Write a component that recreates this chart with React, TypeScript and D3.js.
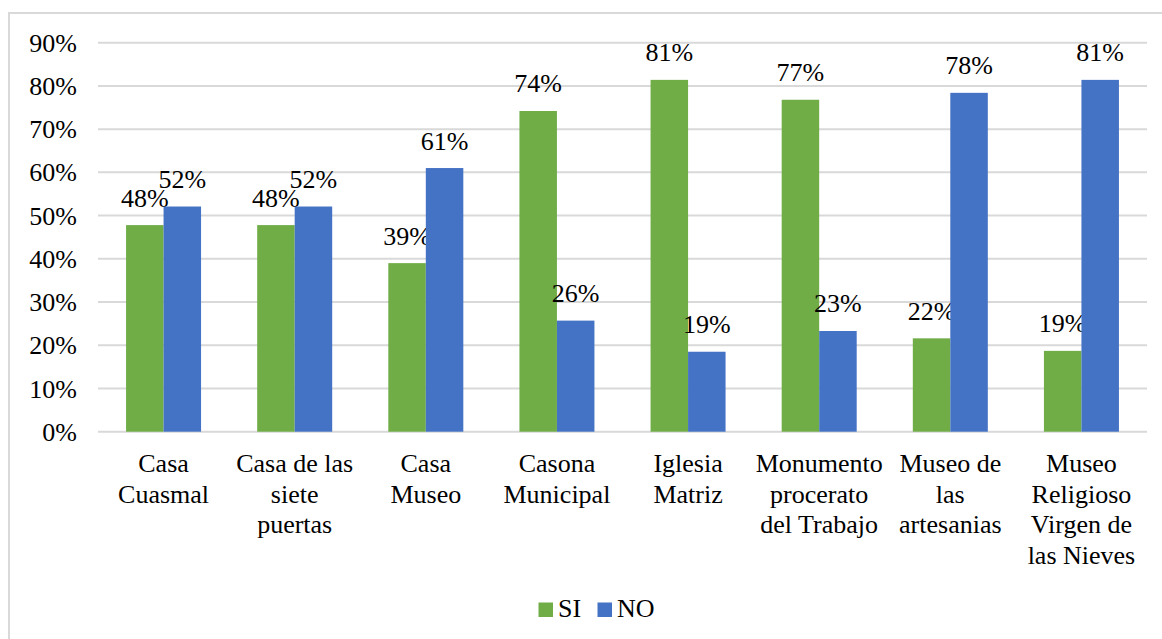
import React from "react";
import * as d3 from "d3";

const categories: string[][] = [
  ["Casa", "Cuasmal"],
  ["Casa de las", "siete", "puertas"],
  ["Casa", "Museo"],
  ["Casona", "Municipal"],
  ["Iglesia", "Matriz"],
  ["Monumento", "procerato", "del Trabajo"],
  ["Museo de", "las", "artesanias"],
  ["Museo", "Religioso", "Virgen de", "las Nieves"],
];
const siValues = [47.8, 47.8, 39.0, 74.2, 81.4, 76.8, 21.6, 18.7];
const noValues = [52.1, 52.1, 61.0, 25.7, 18.5, 23.3, 78.4, 81.4];
const yTicks = [0, 10, 20, 30, 40, 50, 60, 70, 80, 90];
const seriesNames = ["SI", "NO"];
const seriesColors = ["#70AD47", "#4472C4"];

const W = 1162;
const H = 639;
const left = 98;
const right = 1147;
const top = 42.7;
const bottom = 431.7;
const font =
  "'Liberation Serif', 'Tinos', 'Times New Roman', Times, 'Nimbus Roman', 'Nimbus Roman No9 L', FreeSerif, 'DejaVu Serif', 'Noto Serif', serif";

export default function App() {
  const x = d3
    .scaleBand<number>()
    .domain(categories.map((_, i) => i))
    .range([left, right])
    .paddingInner(0)
    .paddingOuter(0);
  const y = d3.scaleLinear().domain([0, 90]).range([bottom, top]);
  const step = x.bandwidth();
  const barW = step * 0.286;
  const series = [siValues, noValues];

  return (
    <svg
      width={W}
      height={H}
      style={{ position: "absolute", left: 0, top: 0, background: "#fff", fontFamily: font }}
    >
      <rect x={0} y={0} width={W} height={H} fill="#fff" />
      <rect x={9} y={13} width={W + 20} height={H + 20} fill="none" stroke="#d9d9d9" strokeWidth={2} />
      {yTicks.map((t) => (
        <g key={t}>
          <line x1={left} x2={right} y1={y(t)} y2={y(t)} stroke="#d9d9d9" strokeWidth={2} />
          <text
            x={77}
            y={y(t)}
            dy="0.35em"
            textAnchor="end"
            style={{ fontFamily: font }}
            fontSize={26}
            fill="#000"
          >
            {t}%
          </text>
        </g>
      ))}
      {series.map((vals, s) =>
        vals.map((v, i) => {
          const cx = (x(i) as number) + step / 2;
          const bx = s === 0 ? cx - barW : cx;
          return (
            <g key={`${s}-${i}`}>
              <rect x={bx} y={y(v)} width={barW} height={bottom - y(v)} fill={seriesColors[s]} />
              <text
                x={bx + barW / 2}
                y={y(v) - 18.5}
                textAnchor="middle"
                style={{ fontFamily: font }}
                fontSize={26}
                fill="#000"
              >
                {Math.round(v)}%
              </text>
            </g>
          );
        })
      )}
      {categories.map((lines, i) => {
        const cx = (x(i) as number) + step / 2;
        return (
          <text key={i} textAnchor="middle" style={{ fontFamily: font }} fontSize={26} fill="#000">
            {lines.map((l, j) => (
              <tspan key={j} x={cx} y={472 + j * 30.6}>
                {l}
              </tspan>
            ))}
          </text>
        );
      })}
      <g>
        <rect x={538.5} y={602.5} width={14.5} height={14.5} fill={seriesColors[0]} />
        <text x={558} y={617} style={{ fontFamily: font }} fontSize={26} fill="#000">
          {seriesNames[0]}
        </text>
        <rect x={597.5} y={602.5} width={14.5} height={14.5} fill={seriesColors[1]} />
        <text x={617} y={617} style={{ fontFamily: font }} fontSize={26} fill="#000">
          {seriesNames[1]}
        </text>
      </g>
    </svg>
  );
}
